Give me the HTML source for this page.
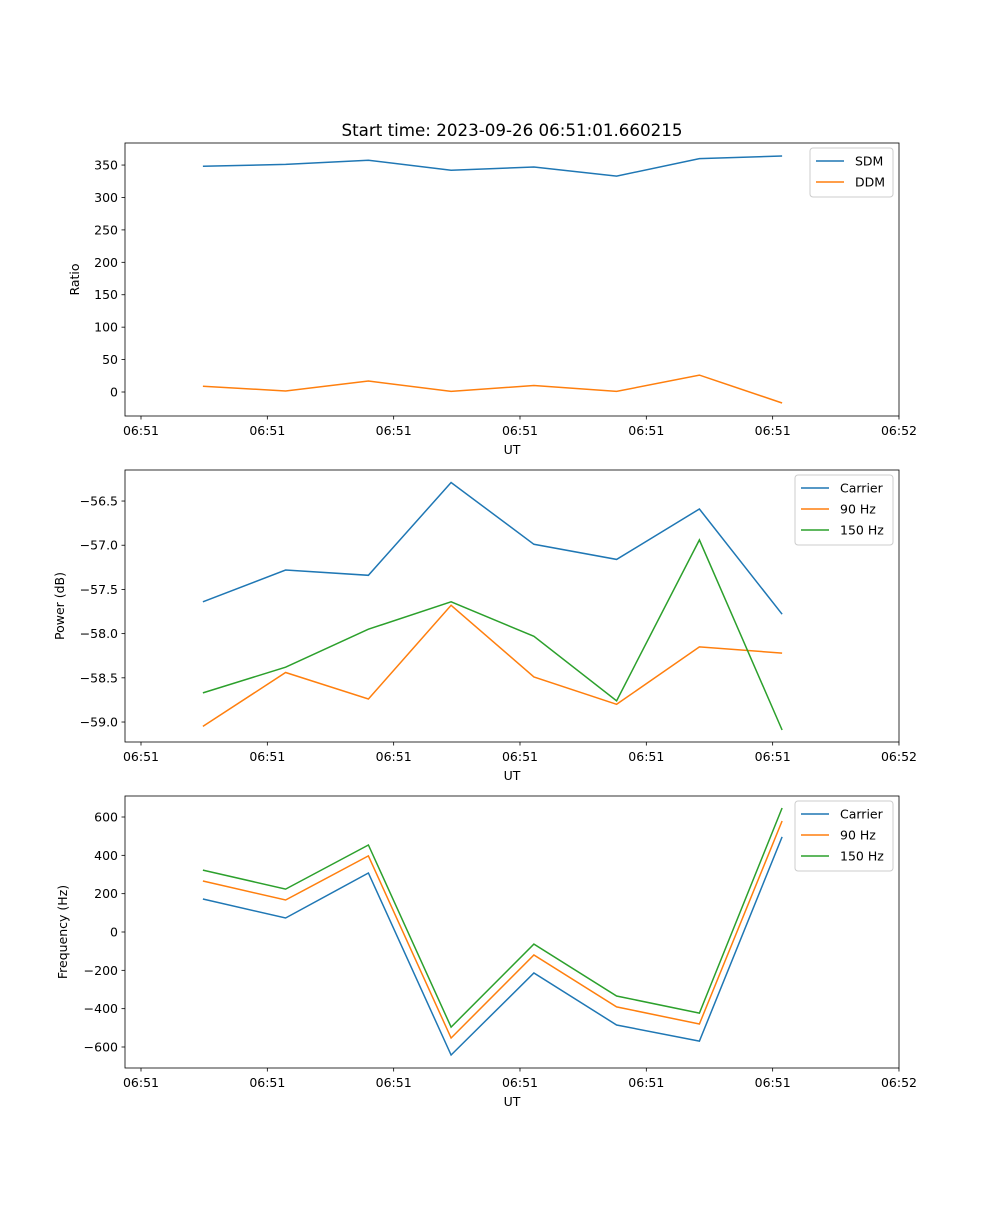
<!DOCTYPE html>
<html><head><meta charset="utf-8">
<style>
body{margin:0;background:#fff;}
svg text{font-family:"DejaVu Sans","Liberation Sans",sans-serif;fill:#000;}
</style></head>
<body>
<svg id="fig" width="1000" height="1200" xmlns="http://www.w3.org/2000/svg">
<rect width="1000" height="1200" fill="#fff"/>
<text x="512" y="136" font-size="16.7" text-anchor="middle">Start time: 2023-09-26 06:51:01.660215</text>
</svg>
<script>
const xTickLabels = ["06:51","06:51","06:51","06:51","06:51","06:51","06:52"];
const times = [0.49, 1.145, 1.8, 2.455, 3.11, 3.765, 4.42, 5.075];
const sdm = [348, 351, 357.5, 342, 347, 333, 360, 364];
const ddm = [9, 1.5, 17, 1, 10, 1, 26, -17];
const powCarrier = [-57.64, -57.28, -57.34, -56.29, -56.99, -57.16, -56.59, -57.78];
const pow90 = [-59.05, -58.44, -58.74, -57.68, -58.49, -58.80, -58.15, -58.22];
const pow150 = [-58.67, -58.38, -57.95, -57.64, -58.03, -58.76, -56.94, -59.09];
const freqCarrier = [172, 73, 308, -642, -214, -485, -569, 496];
const freq90 = [266, 167, 397, -553, -120, -391, -480, 579];
const freq150 = [323, 224, 454, -496, -63, -334, -423, 647];
const ticks1 = [0,50,100,150,200,250,300,350];
const ticks2 = [-59.0,-58.5,-58.0,-57.5,-57.0,-56.5];
const ticks3 = [-600,-400,-200,0,200,400,600];

const NS="http://www.w3.org/2000/svg";
const svg=document.getElementById('fig');
const L=125,R=899;
const FS=12.5;
function xs(v){return 141+v*126.33;}
function mk(tag,attrs,parent){const e=document.createElementNS(NS,tag);for(const k in attrs)e.setAttribute(k,attrs[k]);(parent||svg).appendChild(e);return e;}
const C=['#1f77b4','#ff7f0e','#2ca02c'];

function panel(name,top,bot,ymin,ymax,yticks,fmt,ylabel,series,names,legend){
  const g=mk('g',{});
  
  
  const ys=v=>bot-(v-ymin)/(ymax-ymin)*(bot-top);
  series.forEach((s,i)=>{
    const pts=s.map((v,j)=>xs(times[j]).toFixed(1)+','+ys(v).toFixed(1)).join(' ');
    const pl=mk('polyline',{points:pts,fill:'none',stroke:C[i],'stroke-width':1.5},g);
    
    
  });
  mk('rect',{x:L,y:top,width:R-L,height:bot-top,fill:'none',stroke:'#000','stroke-width':0.8},g);
  xTickLabels.forEach((t,i)=>{
    const x=xs(i);
    mk('line',{x1:x,x2:x,y1:bot,y2:bot+3.5,stroke:'#000','stroke-width':0.8},g);
    const tx=mk('text',{x:x,y:bot+19,'font-size':FS,'text-anchor':'middle'},g);
    tx.textContent=t;
    
    
  });
  yticks.forEach(v=>{
    const y=ys(v);
    mk('line',{x1:L-3.5,x2:L,y1:y,y2:y,stroke:'#000','stroke-width':0.8},g);
    const tx=mk('text',{x:L-7,y:y+4.5,'font-size':FS,'text-anchor':'end'},g);
    tx.textContent=fmt(v);
    
    
  });
  const xl=mk('text',{x:512,y:bot+38,'font-size':FS,'text-anchor':'middle'},g);
  xl.textContent='UT';
  
  
  const yl=mk('text',{x:0,y:0,'font-size':FS,'text-anchor':'middle',transform:`translate(${legend.yx},${(top+bot)/2}) rotate(-90)`},g);
  yl.textContent=ylabel;
  
  
  const lg=mk('g',{},g);
  
  
  const bx=legend.x,by=top+5,bw=R-6-bx,bh=names.length*21+7;
  mk('rect',{x:bx,y:by,width:bw,height:bh,rx:3,fill:'#fff','fill-opacity':0.8,stroke:'#ccc','stroke-width':1},lg);
  names.forEach((n,i)=>{
    const y=by+13+i*21;
    mk('line',{x1:bx+6,x2:bx+34,y1:y,y2:y,stroke:C[i],'stroke-width':1.5},lg);
    const tx=mk('text',{x:bx+45,y:y+4.5,'font-size':FS},lg);
    tx.textContent=n;
    
    
  });
}
panel('ratio-panel',143,416,-37,384,ticks1,v=>String(v),'Ratio',[sdm,ddm],['SDM','DDM'],{x:810,yx:79});
panel('power-panel',470,742,-59.226,-56.149,ticks2,v=>(v<0?'\u2212':'')+Math.abs(v).toFixed(1),'Power (dB)',[powCarrier,pow90,pow150],['Carrier','90 Hz','150 Hz'],{x:795,yx:64});
panel('frequency-panel',796,1068,-709.6,709.6,ticks3,v=>(v<0?'\u2212':'')+Math.abs(v),'Frequency (Hz)',[freqCarrier,freq90,freq150],['Carrier','90 Hz','150 Hz'],{x:795,yx:67});
</script>
</body></html>
